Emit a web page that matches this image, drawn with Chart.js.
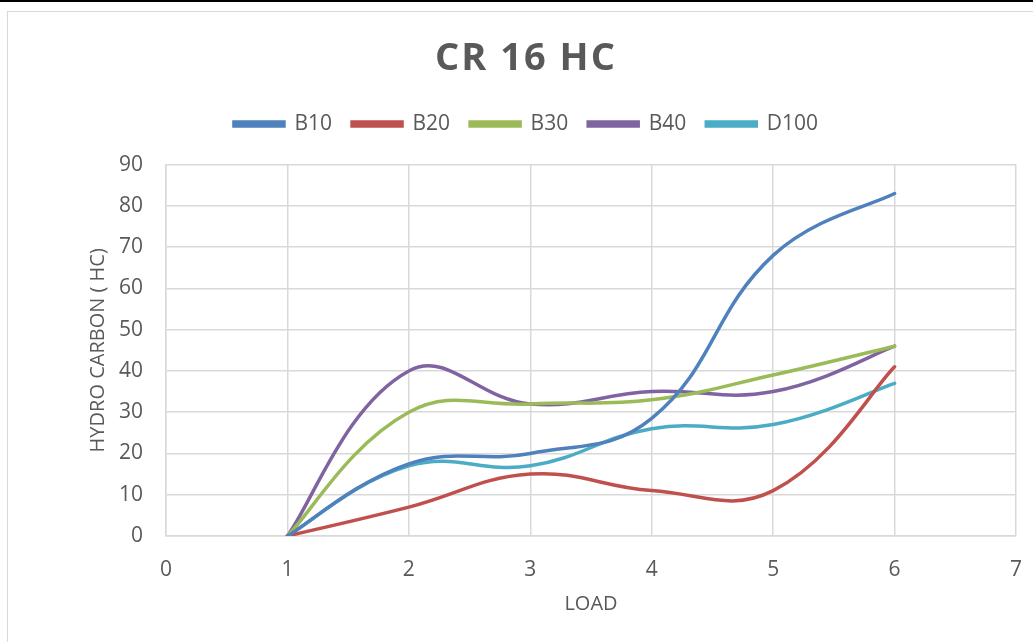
<!DOCTYPE html>
<html>
<head>
<meta charset="utf-8">
<title>CR 16 HC</title>
<script src="https://cdn.jsdelivr.net/npm/chart.js@4/dist/chart.umd.min.js"></script>
<style>
  body { margin: 0; background: #fff; overflow: hidden; width: 1033px; height: 642px; }
  #topbar { position: absolute; left: 0; top: 0; width: 1033px; height: 2px; background: #000; }
  #frame { position: absolute; left: 7px; top: 11px; width: 1060px; height: 660px; border: 1px solid #d9d9d9; }
  #chart { position: absolute; left: 9px; top: 13px; }
</style>
</head>
<body>
<div id="topbar"></div>
<div id="frame"></div>
<canvas id="chart" width="1034" height="629"></canvas>
<script>
// values
var loads = [1, 2, 3, 4, 5, 6];
var seriesNames = ["B10", "B20", "B30", "B40", "D100"];
var b10 = [0, 17.5, 20, 28.5, 68, 83];
var b20 = [0, 7, 15, 11, 11, 41];
var b30 = [0, 30, 32, 33, 39, 46];
var b40 = [0, 40, 32, 35, 35, 46];
var d100 = [0, 17, 17, 26, 27, 37];
var seriesColors = ["#4f81bd", "#c0504d", "#9bbb59", "#8064a2", "#4bacc6"];

var textColor = "#595959";
var gridColor = "#d9d9d9";
var fontFamily = "'Open Sans', 'Noto Sans', sans-serif";

function toPoints(vals) {
    var pts = [];
    for (let i = 0; i < loads.length; i++) {
        pts.push({ x: loads[i], y: vals[i] });
    }
    return pts;
}

var allValues = [b10, b20, b30, b40, d100];
var dataList = [];
for (let i = 0; i < seriesNames.length; i++) {
    dataList.push({
        label: seriesNames[i],
        data: toPoints(allValues[i]),
        borderColor: seriesColors[i],
        backgroundColor: seriesColors[i],
        borderWidth: 3.5,
        borderCapStyle: "round",
        pointRadius: 0,
        tension: 0.42,
        fill: false
    });
}

// fixed legend height, spaced title, softer curve ends (closer to excel smoothing)
var tweaks = {
    id: "tweaks",
    beforeInit(chart) {
        var fit = chart.legend.fit;
        chart.legend.fit = function() {
            fit.call(this);
            this.height = 71;
        };
        var draw = chart.titleBlock.draw;
        chart.titleBlock.draw = function() {
            var c = this.ctx;
            var old = c.letterSpacing;
            c.letterSpacing = "2px";
            draw.apply(this, arguments);
            c.letterSpacing = old;
        };
    },
    beforeDatasetsDraw(chart) {
        chart.data.datasets.forEach((ds, i) => {
            var meta = chart.getDatasetMeta(i);
            meta.dataset.updateControlPoints(chart.chartArea, "x");
            var pts = meta.data;
            var first = pts[0];
            var last = pts[pts.length - 1];
            first.cp2x = first.x + (first.cp2x - first.x) * 0.5;
            first.cp2y = first.y + (first.cp2y - first.y) * 0.5;
            last.cp1x = last.x + (last.cp1x - last.x) * 0.5;
            last.cp1y = last.y + (last.cp1y - last.y) * 0.5;
        });
    }
};

var ctx = document.getElementById("chart").getContext("2d");
var chart = new Chart(ctx, {
    type: "line",
    data: { datasets: dataList },
    plugins: [tweaks],
    options: {
        responsive: false,
        animation: false,
        layout: { padding: 0 },
        scales: {
            x: {
                type: "linear",
                min: 0,
                max: 7,
                ticks: { stepSize: 1, color: textColor, padding: 21, font: { family: fontFamily, size: 21 } },
                grid: { color: gridColor, lineWidth: 1.5, drawTicks: false },
                border: { color: gridColor, width: 1.5 },
                title: {
                    display: true,
                    text: "LOAD",
                    color: textColor,
                    font: { family: fontFamily, size: 20 },
                    padding: { top: 0, bottom: 26 }
                },
                afterFit(scale) { scale.height = 106; }
            },
            y: {
                min: 0,
                max: 90,
                ticks: { stepSize: 10, color: textColor, padding: 23, font: { family: fontFamily, size: 21 } },
                grid: { color: gridColor, lineWidth: 1.5, drawTicks: false },
                border: { color: gridColor, width: 1.5 },
                title: {
                    display: true,
                    text: "HYDRO CARBON ( HC)",
                    color: textColor,
                    font: { family: fontFamily, size: 20 },
                    padding: { top: 77, bottom: 0 }
                },
                afterFit(scale) { scale.width = 157; }
            },
            // empty space on the right of the plot
            yRight: {
                position: "right",
                display: true,
                grid: { display: false, drawTicks: false },
                ticks: { display: false },
                border: { display: false },
                afterFit(scale) { scale.width = 26; }
            }
        },
        plugins: {
            title: {
                display: true,
                text: "CR 16 HC",
                color: textColor,
                font: { family: fontFamily, size: 38, weight: "bold" },
                padding: { top: 23, bottom: 12 }
            },
            legend: {
                display: true,
                position: "top",
                labels: {
                    color: textColor,
                    font: { family: fontFamily, size: 21 },
                    boxWidth: 50,
                    boxHeight: 4,
                    padding: 20
                }
            },
            tooltip: { enabled: false }
        }
    }
});
</script>
</body>
</html>
